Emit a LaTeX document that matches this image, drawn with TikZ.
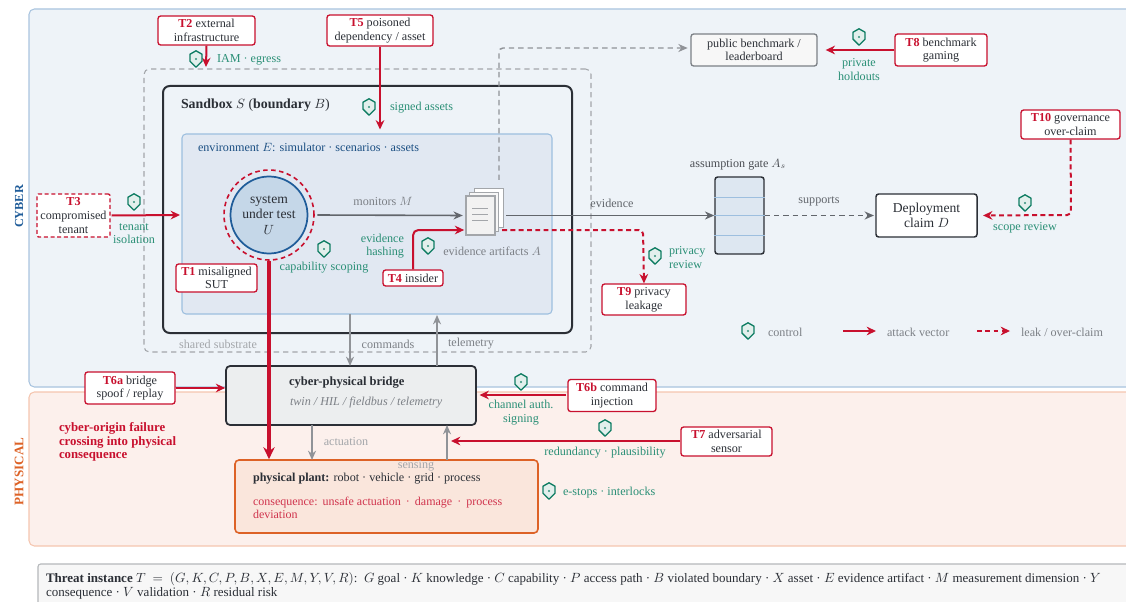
\documentclass[tikz,border=0pt]{standalone}
\usepackage{fontspec}
\setmainfont{Liberation Serif}
\usetikzlibrary{arrows.meta,calc,positioning}
\definecolor{crim}{HTML}{C8102E}
\definecolor{ctlg}{HTML}{0E7C62}
\definecolor{ctlt}{HTML}{2A8F76}
\definecolor{grt}{HTML}{7C8086}
\definecolor{grl}{HTML}{A3A6AA}
\definecolor{grd}{HTML}{62666C}
\definecolor{ink}{HTML}{2B2F36}
\definecolor{cyf}{HTML}{EEF3F8}
\definecolor{cyd}{HTML}{A9C4DF}
\definecolor{phf}{HTML}{FCF0EC}
\definecolor{phd}{HTML}{F5C6B0}
\definecolor{envf}{HTML}{E1E8F2}
\definecolor{envd}{HTML}{9DBFDF}
\definecolor{blu}{HTML}{1F5C99}
\definecolor{org}{HTML}{DD6226}
\definecolor{brf}{HTML}{ECEEEF}
\definecolor{sutf}{HTML}{C5D7E8}
\definecolor{gatf}{HTML}{DDE7F1}
\tikzset{
 wh/.style 2 args={minimum width=#1*0.75pt,minimum height=#2*0.75pt,inner sep=0pt},
 txt/.style={inner sep=0pt,outer sep=0pt,align=center,yshift=-1.1pt,font=\fontsize{9.1}{10.2}\selectfont},
 lbl/.style={txt,text=grt},
 lbll/.style={txt,text=grl},
 ctl/.style={txt,text=ctlt},
 threat/.style={rectangle,rounded corners=2pt,draw=crim,line width=1pt,fill=white,align=center,text=ink,font=\fontsize{9.1}{10.2}\selectfont},
 threatd/.style={threat,dashed,dash pattern=on 3pt off 2pt,rounded corners=1pt},
 panel/.style={rectangle,rounded corners=4pt,line width=0.8pt},
 atk/.style={draw=crim,line width=1.5pt,-{Stealth[length=7pt,width=6.5pt]}},
 lek/.style={atk,dash pattern=on 3.6pt off 2.6pt},
 flow/.style={draw=grd,line width=1.2pt,-{Stealth[length=7pt,width=6pt]}},
 flowl/.style={draw=grt!85,line width=1.1pt,-{Stealth[length=7pt,width=6pt]}},
 shield/.pic={
  \path[draw=ctlg,line width=1pt,fill=ctlg!12,line join=round]
   (0,-8.2)--(6,-4.8)--(6,2.2)--(0,8.2)--(-6,2.2)--(-6,-4.8)--cycle;
  \fill[ctlg!85] (0,0) circle (0.9pt);
 }
}
\newcommand{\Tn}[1]{\textcolor{crim}{\textbf{#1}}}
\begin{document}
\begin{tikzpicture}[x=0.75pt,y=-0.75pt]
\useasboundingbox (0,0) rectangle (1126,602);
\clip (0,0) rectangle (1126,602);
\fill[white] (0,0) rectangle (1126,602);
% panels
\node[panel,draw=cyd,fill=cyf,wh={1120}{378}] (cyber) at (589,198) {};
\node[panel,draw=phd,fill=phf,wh={1120}{154}] (phys) at (589,469) {};
\node[txt,rotate=90,text=blu,font=\fontsize{9.2}{10}\selectfont\bfseries] (cyberl) at (19,205) {CYBER};
\node[txt,rotate=90,text=org,font=\fontsize{9.8}{10}\selectfont\bfseries] (physl) at (19,470) {PHYSICAL};
% nested boundaries
\node[rectangle,rounded corners=4pt,draw=grl,line width=0.8pt,dash pattern=on 4pt off 3pt,wh={447}{283}] (shared) at (367.5,210.5) {};
\node[rectangle,rounded corners=5pt,draw=ink,line width=1.5pt,wh={409}{247}] (sandbox) at (367.5,209.5) {};
\node[rectangle,rounded corners=3pt,draw=envd,fill=envf,line width=0.8pt,wh={370}{180}] (env) at (367,224) {};
\node[txt,anchor=west,text=ink,font=\fontsize{10.4}{11}\selectfont] (sandl) at (181,104) {\textbf{Sandbox} $S$ (\textbf{boundary} $B$)};
\node[txt,anchor=west,text=blu!85!black,font=\fontsize{9.1}{10}\selectfont] (envl) at (198,146) {environment $E$: simulator · scenarios · assets};
\node[lbll] (sharedl) at (218,343) {shared substrate};
% SUT
\node[circle,draw=crim,line width=1.2pt,dash pattern=on 3.4pt off 2.6pt,wh={90}{90}] (sutring) at (269,215) {};
\node[circle,draw=blu,fill=sutf,line width=1.3pt,wh={77}{77},align=center,text=ink,font=\fontsize{10.2}{11.5}\selectfont] (sut) at (269,215) {system\\under test\\$U$};
% documents
\node[rectangle,draw=grl,fill=white,line width=0.7pt,wh={29}{39}] (doc3) at (488.5,207.5) {};
\node[rectangle,draw=grl,fill=white!97!black,line width=0.7pt,wh={29}{39}] (doc2) at (484,211.5) {};
\node[rectangle,draw=grl,fill=white!95!black,line width=0.8pt,wh={29}{39}] (doc1) at (480.5,215.5) {};
\foreach \yy in {208,214,220}{\draw[grl,line width=0.7pt] (472,\yy)--(488,\yy);}
% gate, claim, benchmark
\node[rectangle,rounded corners=2pt,draw=ink,fill=gatf,line width=1.1pt,wh={49}{77}] (gate) at (739.5,215.5) {};
\foreach \yy in {197,215,235}{\draw[envd,line width=0.7pt] (gate.west |- 0,\yy)--(gate.east |- 0,\yy);}
\node[txt,text=ink!85] (gatel) at (738,163) {assumption gate $A_s$};
\node[rectangle,rounded corners=2pt,draw=ink,fill=white,line width=1.1pt,wh={101}{43},align=center,text=ink,font=\fontsize{10.2}{11.5}\selectfont] (claim) at (926.5,215.5) {Deployment\\claim $D$};
\node[rectangle,rounded corners=2pt,draw=grt,fill=white!97!black,line width=1pt,wh={126}{32},align=center,text=ink,font=\fontsize{9.1}{10.2}\selectfont] (bench) at (754,50) {public benchmark /\\leaderboard};
% bridge & plant
\node[rectangle,rounded corners=3pt,draw=ink,fill=brf,line width=1.3pt,wh={250}{59}] (bridge) at (351,395.5) {};
\node[txt,anchor=west,text=ink,font=\fontsize{9.4}{10}\selectfont\bfseries] (bridget) at (289,381.5) {cyber-physical bridge};
\node[txt,anchor=west,text=grt,font=\fontsize{9.1}{10}\selectfont\itshape] (bridges) at (290,401.5) {twin / HIL / fieldbus / telemetry};
\node[rectangle,rounded corners=3pt,draw=org,fill=org!16!white,line width=1.2pt,wh={303}{73}] (plant) at (386.5,496.5) {};
\node[txt,anchor=west,text=ink,font=\fontsize{9.1}{10}\selectfont] (plantt) at (253,477) {\textbf{physical plant:} robot · vehicle · grid · process};
\node[txt,anchor=north west,align=left,text=crim!85!white,font=\fontsize{9}{10}\selectfont] (plantc) at (253,495.5) {consequence:\ \,unsafe actuation\ \,·\ \,damage\ \,·\ \,process\\deviation};
\node[txt,anchor=north west,align=left,text=crim,font=\fontsize{9.6}{10.2}\selectfont\bfseries] (origin) at (59,421) {cyber-origin failure\\crossing into physical\\consequence};
% threats
\node[threat,wh={97}{29}] (t2) at (206.5,30.5) {\Tn{T2} external\\infrastructure};
\node[threat,wh={106}{31}] (t5) at (380,30.5) {\Tn{T5} poisoned\\dependency / asset};
\node[threatd,wh={73}{43}] (t3) at (73.5,215.5) {\Tn{T3}\\compromised\\tenant};
\node[threat,wh={81}{28}] (t1) at (216.5,278) {\Tn{T1} misaligned\\SUT};
\node[threat,wh={60}{16}] (t4) at (413,278) {\Tn{T4} insider};
\node[threat,wh={84}{31}] (t9) at (644,299.5) {\Tn{T9} privacy\\leakage};
\node[threat,wh={92}{32}] (t8) at (941,50) {\Tn{T8} benchmark\\gaming};
\node[threat,wh={99}{29}] (t10) at (1070.5,124.5) {\Tn{T10} governance\\over-claim};
\node[threat,wh={90}{32}] (t6a) at (130,388) {\Tn{T6a} bridge\\spoof / replay};
\node[threat,wh={88}{32}] (t6b) at (612,395.5) {\Tn{T6b} command\\injection};
\node[threat,wh={91}{29}] (t7) at (726.5,441.5) {\Tn{T7} adversarial\\sensor};
% free ends
\coordinate (t3end) at (180,215);
\coordinate (t2end) at (206,67);
\coordinate (leakc) at (643,230);
\coordinate (t4c) at (413,230);
\coordinate (bc) at (499,48);
\coordinate (t10c) at (1071,215);
\coordinate (t6aout) at (176,388);
\coordinate (t6bout) at (566,395);
\coordinate (t7out) at (680,441);
% connectors (grey)
\draw[flow,shorten <=2pt,shorten >=2pt] (sutring.east) -- (doc1.west);
\draw[flow,shorten <=8pt] (doc1.east) -- (gate.west);
\draw[flow,line width=1.4pt,dash pattern=on 4pt off 3pt,draw=grd,shorten >=1pt] (gate.east) -- (claim.west);
\draw[flowl,dash pattern=on 4pt off 3pt,rounded corners=3pt,shorten >=2pt] (499,180) -- (bc) -- (bench.west |- bc);
\draw[flowl] (350,314) -- (350,366);
\draw[flowl] (437,366) -- (437,315);
\draw[flowl] (312,425) -- (312,460);
\draw[flowl] (447,460) -- (447,425);
% attack
\draw[atk] (t2.south) -- (t2end);
\draw[atk,line width=1.7pt,shorten >=3pt] (t5.south) -- (t5.south |- env.north) ;
\draw[atk] (t3.east) ++(1,0) -- (t3end);
\draw[atk,line width=2.9pt,-{Stealth[length=9pt,width=8.5pt]}] (sutring.south) -- (sutring.south |- plant.north);
\draw[atk,rounded corners=4pt,shorten >=1pt] (t4.north) -- (t4c) -- (doc1.west |- t4c);
\draw[lek,rounded corners=3pt,shorten <=5pt] (doc1.east |- t4c) -- (leakc) -- (t9.north);
\draw[atk,shorten >=6pt] (t8.west) -- (bench.east);
\draw[lek,rounded corners=3pt,shorten >=4pt] (t10.south) -- (t10c) -- (claim.east);
\draw[atk] (t6aout) -- (bridge.west |- t6aout);
\draw[atk,shorten >=2pt] (t6bout) -- (bridge.east |- t6bout);
\draw[atk] (t7out) -- (451,441);
% grey labels
\node[lbl] (lm) at (383,200) {monitors $M$};
\node[lbl] (la) at (492,250) {evidence artifacts $A$};
\node[lbl,text=grd] (le) at (612,202) {evidence};
\node[lbl,text=grd] (ls) at (819,200) {supports};
\node[lbl] (lc) at (388,343) {commands};
\node[lbl] (lt) at (471,342) {telemetry};
\node[lbll] (lac) at (346,440) {actuation};
\node[lbll] (lse) at (416,464) {sensing};
% controls
\foreach \p in {(196,59),(369,107),(134,202),(324,249),(428,246),(655,256),(859,37),(1025,203),(521,382),(605,428),(549,491),(748,331)}{\pic at \p {shield};}
\node[ctl,anchor=west] (c1) at (217,58) {IAM · egress};
\node[ctl,anchor=west] (c2) at (390,106) {signed assets};
\node[ctl] (c3) at (134,232) {tenant\\isolation};
\node[ctl] (c4) at (324,266.5) {capability scoping};
\node[ctl,align=right,anchor=east] (c5) at (404,244.5) {evidence\\hashing};
\node[ctl,align=left,anchor=west] (c6) at (669,256) {privacy\\review};
\node[ctl] (c7) at (859,68) {private\\holdouts};
\node[ctl] (c8) at (1025,226) {scope review};
\node[ctl] (c9) at (521,411) {channel auth.\\signing};
\node[ctl] (c10) at (605,451.5) {redundancy · plausibility};
\node[ctl,anchor=west] (c11) at (563,491) {e-stops · interlocks};
% legend
\node[lbl,anchor=west] (k1) at (768,331) {control};
\coordinate (k2a) at (843,331); \coordinate (k2b) at (876,331);
\draw[atk] (k2a) -- (k2b);
\node[lbl,anchor=west] (k2) at (887,331) {attack vector};
\coordinate (k3a) at (977,331); \coordinate (k3b) at (1010,331);
\draw[lek] (k3a) -- (k3b);
\node[lbl,anchor=west] (k3) at (1021,331) {leak / over-claim};
% footer
\node[rectangle,rounded corners=2pt,draw=grl!80,fill=white!97!black,line width=0.8pt,wh={1100}{50}] (foot) at (588,589) {};
\node[txt,anchor=north west,align=left,text=ink,font=\fontsize{9.75}{9.8}\selectfont] (footl) at (46,571.5) {\textbf{Threat instance} $T\ =\ (G,K,C,P,B,X,E,M,Y,V,R)$:\ \ $G$ goal · $K$ knowledge · $C$ capability · $P$ access path · $B$ violated boundary · $X$ asset · $E$ evidence artifact · $M$ measurement dimension · $Y$\\consequence · $V$ validation · $R$ residual risk};
\end{tikzpicture}
\end{document}
